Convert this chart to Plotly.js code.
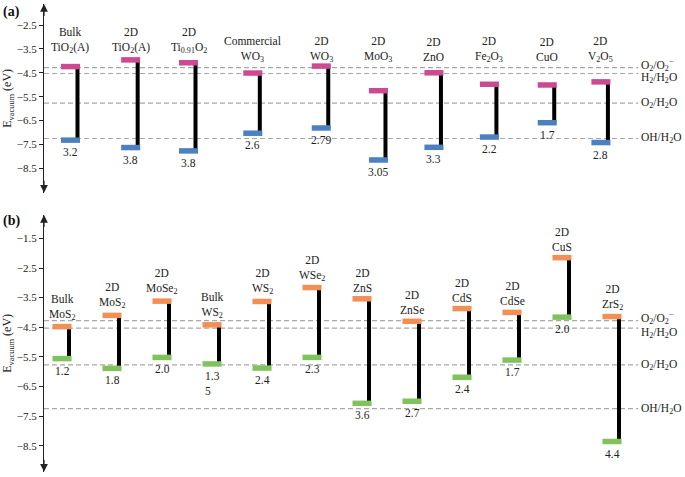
<!DOCTYPE html>
<html>
<head>
<meta charset="utf-8">
<script src="https://cdn.plot.ly/plotly-3.0.1.min.js"></script>
<style>html,body{margin:0;padding:0;background:#fff;}#chart{width:685px;height:477px;}</style>
</head>
<body>
<div id="chart"></div>
<script>
// ---- data: panel (a) metal oxides ----
const materialsA = ['Bulk<br>TiO<sub>2</sub>(A)', '2D<br>TiO<sub>2</sub>(A)', '2D<br>Ti<sub>0.91</sub>O<sub>2</sub>', 'Commercial<br>WO<sub>3</sub>', '2D<br>WO<sub>3</sub>', '2D<br>MoO<sub>3</sub>', '2D<br>ZnO', '2D<br>Fe<sub>2</sub>O<sub>3</sub>', '2D<br>CuO', '2D<br>V<sub>2</sub>O<sub>5</sub>'];
const cbA = [-4.24, -3.96, -4.08, -4.51, -4.22, -5.25, -4.50, -4.98, -5.01, -4.88];
const vbA = [-7.32, -7.63, -7.77, -7.03, -6.81, -8.15, -7.62, -7.19, -6.59, -7.42];
const gapA = ['3.2', '3.8', '3.8', '2.6', '2.79', '3.05', '3.3', '2.2', '1.7', '2.8'];

// ---- data: panel (b) chalcogenides ----
const materialsB = ['Bulk<br>MoS<sub>2</sub>', '2D<br>MoS<sub>2</sub>', '2D<br>MoSe<sub>2</sub>', 'Bulk<br>WS<sub>2</sub>', '2D<br>WS<sub>2</sub>', '2D<br>WSe<sub>2</sub>', '2D<br>ZnS', '2D<br>ZnSe', '2D<br>CdS', '2D<br>CdSe', '2D<br>CuS', '2D<br>ZrS<sub>2</sub>'];
const cbB = [-4.48, -4.10, -3.62, -4.42, -3.63, -3.16, -3.54, -4.30, -3.87, -4.00, -2.15, -4.14];
const vbB = [-5.56, -5.89, -5.52, -5.74, -5.88, -5.52, -7.07, -7.00, -6.19, -5.61, -4.16, -8.36];
const gapB = ['1.2', '1.8', '2.0', '1.3<br>5', '2.4', '2.3', '3.6', '2.7', '2.4', '1.7', '2.0', '4.4'];

// ---- redox reference levels ----
const refNames = ['O<sub>2</sub>/O<sub>2</sub><sup>−</sup>', 'H<sub>2</sub>/H<sub>2</sub>O', 'O<sub>2</sub>/H<sub>2</sub>O', 'OH/H<sub>2</sub>O'];
const refLevels = [-4.28, -4.53, -5.77, -7.25];

// ---- tick labels ----
const ticksA = [-2.5, -3.5, -4.5, -5.5, -6.5, -7.5, -8.5];
const ticksB = [-1.5, -2.5, -3.5, -4.5, -5.5, -6.5, -7.5, -8.5];

// ---- layout constants (positions) ----
const slotA = [0, 1.02, 2, 3.09, 4.25, 5.22, 6.16, 7.1, 8.08, 8.99];
const slotB = materialsB.map((_, i) => i);
const pxPerUnitA = 59, pxPerUnitB = 50;
const FONT = 'Liberation Serif';
const pink = '#cc4a92', blue = '#4d80be', orange = '#f28f56', green = '#80c35c';

function panelTraces(slots, cb, vb, pxU, xa, ya, cCB, cVB) {
  const off = 7 / pxU;
  const lx = [], ly = [];
  slots.forEach((s, i) => { lx.push(s + off, s + off, null); ly.push(cb[i], vb[i], null); });
  const bar = (y, c) => ({
    type: 'scatter', mode: 'markers', x: slots, y: y, xaxis: xa, yaxis: ya,
    marker: {symbol: 'line-ew', size: 13.6, color: c, line: {width: 5.5, color: c}},
    hoverinfo: 'skip', showlegend: false, cliponaxis: false
  });
  return [
    {type: 'scatter', mode: 'lines', x: lx, y: ly, xaxis: xa, yaxis: ya,
     line: {color: '#000', width: 4}, hoverinfo: 'skip', showlegend: false},
    bar(cb, cCB), bar(vb, cVB)
  ];
}

const data = [].concat(
  panelTraces(slotA, cbA, vbA, pxPerUnitA, 'x', 'y', pink, blue),
  panelTraces(slotB, cbB, vbB, pxPerUnitB, 'x2', 'y2', orange, green)
);

const annotations = [];
const shapes = [];
const txt = {family: FONT, size: 11.5, color: '#222'};

// material names
materialsA.forEach((m, i) => {
  annotations.push({xref: 'x', yref: 'y', x: slotA[i], y: i < 3 ? -3.15 : -3.52, text: m,
    showarrow: false, xanchor: 'center', yanchor: 'middle', font: txt});
});
materialsB.forEach((m, i) => {
  annotations.push({xref: 'x2', yref: 'y2', x: slotB[i], y: cbB[i], text: m, yshift: 3,
    showarrow: false, xanchor: 'center', yanchor: 'bottom', font: txt});
});
// band gap values
gapA.forEach((g, i) => {
  annotations.push({xref: 'x', yref: 'y', x: slotA[i], y: vbA[i], text: g, yshift: -4,
    showarrow: false, xanchor: 'center', yanchor: 'top', font: txt});
});
gapB.forEach((g, i) => {
  annotations.push({xref: 'x2', yref: 'y2', x: slotB[i], y: vbB[i], text: g, yshift: -4,
    showarrow: false, xanchor: 'center', yanchor: 'top', align: 'left', font: txt});
});
// reference lines and labels
const labelShift = [3, -4.5, 0, 0];
['y', 'y2'].forEach(yr => {
  refLevels.forEach((lv, k) => {
    shapes.push({type: 'line', xref: 'paper', yref: yr, x0: 0, x1: 0.927, y0: lv, y1: lv,
      layer: 'below', line: {color: '#a8a8a8', width: 1.2, dash: '5px,3px'}});
    annotations.push({xref: 'paper', yref: yr, x: 0.928, y: lv, text: refNames[k], yshift: labelShift[k],
      showarrow: false, xanchor: 'left', yanchor: 'middle', font: txt});
  });
});
// axis arrowheads
['y', 'y2'].forEach(yr => {
  annotations.push({xref: 'paper', yref: yr + ' domain', x: 0, y: 1, ax: 0, ay: 14, text: ' ',
    showarrow: true, arrowhead: 2, arrowsize: 1.3, arrowwidth: 1.2, arrowcolor: '#222', font: {size: 1}});
  annotations.push({xref: 'paper', yref: yr + ' domain', x: 0, y: 0, ax: 0, ay: -14, text: ' ',
    showarrow: true, arrowhead: 2, arrowsize: 1.3, arrowwidth: 1.2, arrowcolor: '#222', font: {size: 1}});
});
// panel letters
annotations.push({xref: 'paper', yref: 'paper', x: -43 / 641, y: 1 - 11.5 / 477, text: '<b>(a)</b>',
  showarrow: false, xanchor: 'left', yanchor: 'middle', font: {family: FONT, size: 14, color: '#111'}});
annotations.push({xref: 'paper', yref: 'paper', x: -43 / 641, y: 1 - 221.5 / 477, text: '<b>(b)</b>',
  showarrow: false, xanchor: 'left', yanchor: 'middle', font: {family: FONT, size: 14, color: '#111'}});

const yCommon = {
  showline: true, linecolor: '#222', linewidth: 1.2, showgrid: false, zeroline: false,
  ticks: 'outside', ticklen: 4, tickwidth: 1, tickcolor: '#222',
  tickfont: {family: FONT, size: 11, color: '#222'},
  title: {text: 'E<sub>vacuum</sub> (eV)', font: {family: FONT, size: 12, color: '#222'}, standoff: 3}
};

const layout = {
  width: 685, height: 477,
  margin: {l: 44, r: 0, t: 0, b: 0},
  paper_bgcolor: '#fff', plot_bgcolor: '#fff',
  font: {family: FONT, size: 12},
  showlegend: false,
  xaxis: {domain: [0, 1], range: [-0.449, 10.415], visible: false, anchor: 'y'},
  xaxis2: {domain: [0, 1], range: [-0.36, 12.46], visible: false, anchor: 'y2'},
  yaxis: Object.assign({}, yCommon, {domain: [1 - 192.7 / 477, 1 - 4 / 477], range: [-9.52, -1.62], tickvals: ticksA, anchor: 'x'}),
  yaxis2: Object.assign({}, yCommon, {domain: [1 - 471.7 / 477, 1 - 215 / 477], range: [-9.38, -0.71], tickvals: ticksB, anchor: 'x2'}),
  annotations: annotations,
  shapes: shapes
};

Plotly.newPlot('chart', data, layout, {displayModeBar: false});
</script>
</body>
</html>
